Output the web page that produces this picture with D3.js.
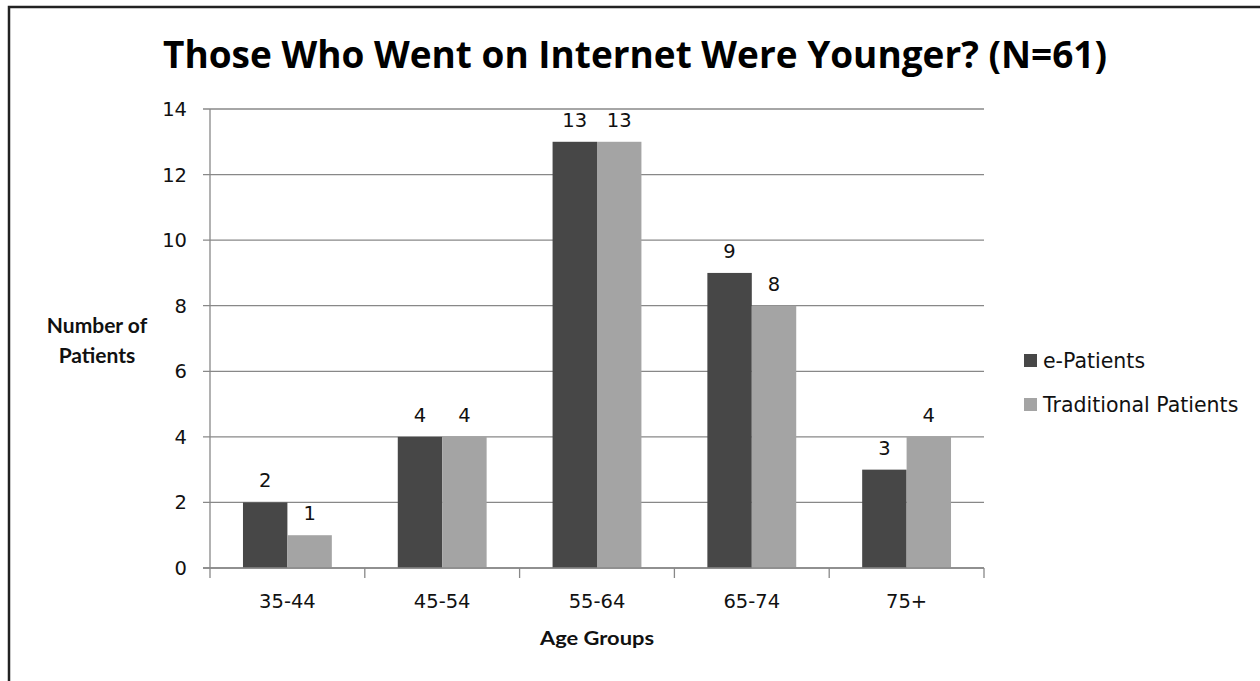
<!DOCTYPE html>
<html>
<head>
<meta charset="utf-8">
<script src="https://cdn.jsdelivr.net/npm/d3@7"></script>
<style>
  body { margin: 0; background: #fff; }
  svg { display: block; }
</style>
</head>
<body>
<svg id="chart" width="1260" height="681"></svg>
<script>
const ageGroups = ['35-44', '45-54', '55-64', '65-74', '75+'];
const seriesNames = ['e-Patients', 'Traditional Patients'];
const ePatients = [2, 4, 13, 9, 3];
const traditionalPatients = [1, 4, 13, 8, 4];
const yTicks = [0, 2, 4, 6, 8, 10, 12, 14];
const colors = ['#474747', '#a4a4a4'];

const svg = d3.select('#chart');
const labelFont = 'DejaVu Sans, sans-serif';
const boldFont = 'Lato, sans-serif';
const labelSize = 19.5;

// frame: only the top and left edges are visible
svg.append('path')
  .attr('d', 'M9,681 V7 H1260')
  .attr('fill', 'none')
  .attr('stroke', '#222')
  .attr('stroke-width', 2.5);

const plot = { left: 210, right: 984, top: 109, bottom: 568 };

const x0 = d3.scaleBand()
  .domain(ageGroups)
  .range([plot.left, plot.right])
  .padding(0);

const x1 = d3.scaleBand()
  .domain(seriesNames)
  .range([x0.bandwidth() * 0.213, x0.bandwidth() * 0.787])
  .padding(0);

const y = d3.scaleLinear()
  .domain([0, 14])
  .range([plot.bottom, plot.top]);

// gridlines
svg.append('g')
  .selectAll('line')
  .data(yTicks)
  .join('line')
  .attr('x1', plot.left - 7)
  .attr('x2', plot.right)
  .attr('y1', d => y(d))
  .attr('y2', d => y(d))
  .attr('stroke', '#888')
  .attr('stroke-width', 1.3);

// y axis line
svg.append('line')
  .attr('x1', plot.left).attr('x2', plot.left)
  .attr('y1', plot.top).attr('y2', plot.bottom)
  .attr('stroke', '#888')
  .attr('stroke-width', 1.3);

// y tick labels
svg.append('g')
  .selectAll('text')
  .data(yTicks)
  .join('text')
  .attr('x', 187)
  .attr('y', d => y(d) + 7)
  .attr('text-anchor', 'end')
  .attr('font-family', labelFont)
  .attr('font-size', labelSize)
  .attr('fill', '#111')
  .text(d => d);

// category ticks on the x axis
const boundaries = ageGroups.map(g => x0(g)).concat([plot.right]);
svg.append('g')
  .selectAll('line')
  .data(boundaries)
  .join('line')
  .attr('x1', d => d).attr('x2', d => d)
  .attr('y1', plot.bottom).attr('y2', plot.bottom + 10)
  .attr('stroke', '#888')
  .attr('stroke-width', 1.3);

// bars
const rows = ageGroups.map((g, i) => ({
  group: g,
  values: [
    { name: seriesNames[0], value: ePatients[i], color: colors[0] },
    { name: seriesNames[1], value: traditionalPatients[i], color: colors[1] }
  ]
}));

const groups = svg.append('g')
  .selectAll('g')
  .data(rows)
  .join('g')
  .attr('transform', d => `translate(${x0(d.group)},0)`);

groups.selectAll('rect')
  .data(d => d.values)
  .join('rect')
  .attr('x', d => x1(d.name))
  .attr('y', d => y(d.value))
  .attr('width', x1.bandwidth())
  .attr('height', d => y(0) - y(d.value))
  .attr('fill', d => d.color);

groups.selectAll('text')
  .data(d => d.values)
  .join('text')
  .attr('x', d => x1(d.name) + x1.bandwidth() / 2)
  .attr('y', d => y(d.value) - 15)
  .attr('text-anchor', 'middle')
  .attr('font-family', labelFont)
  .attr('font-size', labelSize)
  .attr('fill', '#111')
  .text(d => d.value);

// x axis line on top of the bars
svg.append('line')
  .attr('x1', plot.left - 7).attr('x2', plot.right)
  .attr('y1', plot.bottom).attr('y2', plot.bottom)
  .attr('stroke', '#888')
  .attr('stroke-width', 1.3);

// category labels
svg.append('g')
  .selectAll('text')
  .data(ageGroups)
  .join('text')
  .attr('x', d => x0(d) + x0.bandwidth() / 2)
  .attr('y', 608)
  .attr('text-anchor', 'middle')
  .attr('font-family', labelFont)
  .attr('font-size', labelSize)
  .attr('fill', '#111')
  .text(d => d);

// title
svg.append('text')
  .attr('x', 635)
  .attr('y', 68)
  .attr('text-anchor', 'middle')
  .attr('font-family', 'Open Sans, sans-serif')
  .attr('font-weight', 'bold')
  .attr('font-size', 37)
  .attr('textLength', 944)
  .attr('lengthAdjust', 'spacingAndGlyphs')
  .attr('fill', '#000')
  .text('Those Who Went on Internet Were Younger? (N=61)');

// axis titles
svg.append('text')
  .attr('x', (plot.left + plot.right) / 2)
  .attr('y', 645)
  .attr('text-anchor', 'middle')
  .attr('font-family', boldFont)
  .attr('font-weight', 'bold')
  .attr('font-size', 19)
  .attr('textLength', 114)
  .attr('lengthAdjust', 'spacingAndGlyphs')
  .attr('fill', '#111')
  .text('Age Groups');

const yTitle = svg.append('text')
  .attr('text-anchor', 'middle')
  .attr('font-family', boldFont)
  .attr('font-weight', 'bold')
  .attr('font-size', 21)
  .attr('fill', '#111');
yTitle.append('tspan').attr('x', 97).attr('y', 333).text('Number of');
yTitle.append('tspan').attr('x', 97).attr('y', 363).text('Patients');

// legend
const legend = svg.append('g')
  .selectAll('g')
  .data(seriesNames)
  .join('g')
  .attr('transform', (d, i) => `translate(1024,${354 + i * 44})`);

legend.append('rect')
  .attr('width', 13)
  .attr('height', 13)
  .attr('fill', (d, i) => colors[i]);

legend.append('text')
  .attr('x', 19)
  .attr('y', 14)
  .attr('font-family', labelFont)
  .attr('font-size', 20.5)
  .attr('fill', '#111')
  .text(d => d);
</script>
</body>
</html>
